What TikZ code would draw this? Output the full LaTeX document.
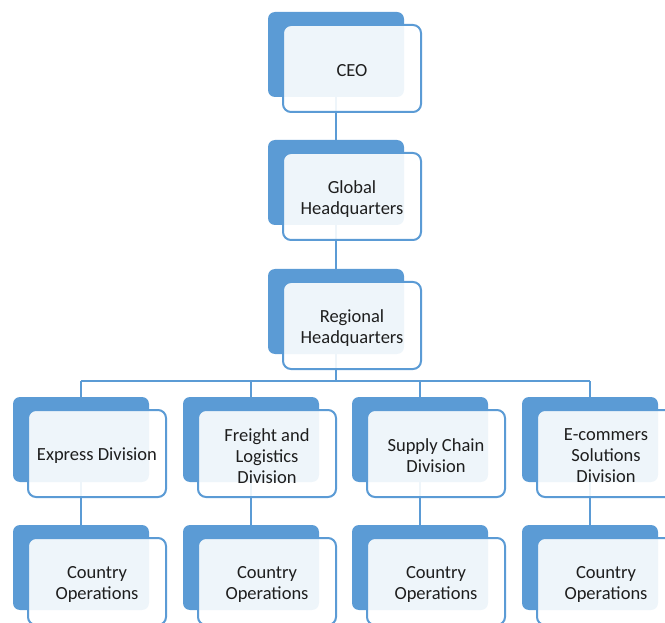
\documentclass[tikz,border=0pt]{standalone}
\usepackage{fontspec}
\setmainfont{Carlito}
\usetikzlibrary{backgrounds}
\definecolor{orgblue}{HTML}{5B9BD5}
\definecolor{orgtext}{HTML}{1E1E1E}
% one unit of the chart: a solid tab behind a framed card, with its caption
\newcommand\orgunit[4]{%
  \node[backtab] (#1) at (#2,#3) {};
  \node[frontcard] (#1f) at ([shift={(16,-14)}]#1.center) {};
  \node[cardtext] (#1t) at ([yshift=-2.5pt]#1f.center) {#4};}
\begin{document}
\begin{tikzpicture}[x=1pt,y=1pt,
  backtab/.style={fill=orgblue, rounded corners=7pt, minimum width=136pt,
    minimum height=85pt, inner sep=0pt, outer sep=0pt},
  frontcard/.style={draw=orgblue, line width=2pt, fill=white, fill opacity=0.9,
    rounded corners=8pt, minimum width=138pt, minimum height=87pt,
    inner sep=0pt},
  cardtext/.style={align=center, text=orgtext, inner sep=0pt,
    font=\fontsize{18.5}{21}\selectfont},
  link/.style={draw=orgblue, line width=2pt}]
\useasboundingbox (0,0) rectangle (665,-623);

% top chain
\orgunit{ceo}{336}{-54.5}{CEO}
\orgunit{ghq}{336}{-182.5}{Global\\Headquarters}
\orgunit{rhq}{336}{-311.5}{Regional\\Headquarters}

% divisions
\orgunit{exp}{81}{-439.5}{Express Division}
\orgunit{frt}{251}{-439.5}{Freight and\\Logistics\\Division}
\orgunit{sup}{420}{-439.5}{Supply Chain\\Division}
\orgunit{ecm}{590}{-439.5}{E-commers\\Solutions\\Division}

% country operations
\orgunit{expc}{81}{-567.5}{Country\\Operations}
\orgunit{frtc}{251}{-567.5}{Country\\Operations}
\orgunit{supc}{420}{-567.5}{Country\\Operations}
\orgunit{ecmc}{590}{-567.5}{Country\\Operations}

\coordinate (bus) at (0,-381);
\begin{pgfonlayer}{background}
  \draw[link] (ceo) -- (ghq);
  \draw[link] (ghq) -- (rhq);
  \draw[link] (rhq) -- (rhq |- bus);
  \draw[link] (exp |- bus) -- (ecm |- bus);
  \foreach \d in {exp,frt,sup,ecm}{
    \draw[link] (\d |- bus) -- (\d);
    \draw[link] (\d) -- (\d c);
  }
\end{pgfonlayer}
\end{tikzpicture}
\end{document}
